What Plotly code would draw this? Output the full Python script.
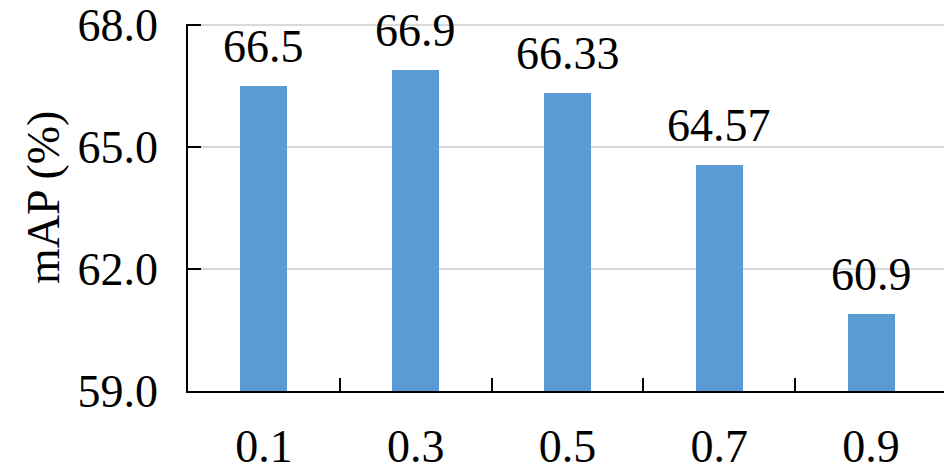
import plotly.graph_objects as go

categories = ["0.1", "0.3", "0.5", "0.7", "0.9"]
values = [66.5, 66.9, 66.33, 64.57, 60.9]
labels = ["66.5", "66.9", "66.33", "64.57", "60.9"]
y_ticks = [59, 62, 65, 68]
y_tick_text = ["59.0", "62.0", "65.0", "68.0"]

FONT = "Liberation Serif, Times New Roman, serif"
FS = 46

# page body has an 8px margin; compensate so plot lands where reference has it
OFF = 8
W, H = 952 - OFF, 467 - OFF
L, R, T, B = 188 - OFF, 5, 24 - OFF, 76
pw = W - L - R
ph = H - T - B

fig = go.Figure()
fig.add_trace(go.Bar(
    x=categories, y=values, width=0.31,
    marker=dict(color="#5B9BD5", line=dict(width=0)),
    base=0,
))

for i, (v, t) in enumerate(zip(values, labels)):
    fig.add_annotation(x=i, y=v, text=t, showarrow=False, yanchor="bottom",
                       yshift=12, font=dict(family=FONT, size=FS, color="black"))

fig.add_annotation(xref="paper", yref="paper", x=-(L + OFF - 43) / pw,
                   y=(391 - 198) / ph,
                   text="mAP (%)", textangle=-90, showarrow=False,
                   xanchor="center", yanchor="middle",
                   font=dict(family=FONT, size=FS, color="black"))

fig.update_layout(
    width=W, height=H,
    margin=dict(l=L, r=R, t=T, b=B, autoexpand=False),
    paper_bgcolor="white", plot_bgcolor="white",
    showlegend=False,
    font=dict(family=FONT, size=FS, color="black"),
    bargap=0,
)
fig.update_xaxes(
    type="category", showline=True, linecolor="black", linewidth=1.5,
    ticks="inside", tickson="boundaries", ticklen=13, tickwidth=1.5, tickcolor="black",
    showgrid=False, ticklabelstandoff=14, automargin=False, ticklabeloverflow="allow",
    tickfont=dict(family=FONT, size=FS, color="black"),
)
fig.update_yaxes(
    range=[59, 68.03], tickvals=y_ticks, ticktext=y_tick_text,
    showline=True, linecolor="black", linewidth=1.5,
    ticks="inside", ticklen=13, tickwidth=1.5, tickcolor="black",
    showgrid=True, gridcolor="#D9D9D9", gridwidth=1.5, zeroline=False,
    ticklabelstandoff=19, automargin=False, ticklabeloverflow="allow",
    tickfont=dict(family=FONT, size=FS, color="black"),
)

fig.write_html("out.html")
